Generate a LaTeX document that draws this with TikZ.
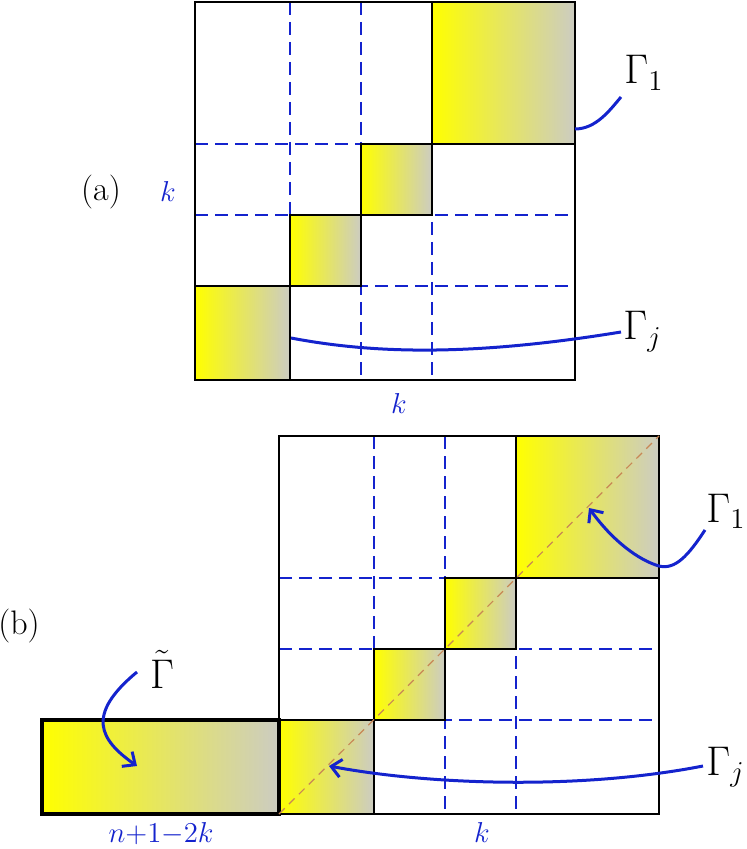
\documentclass[tikz,border=0pt]{standalone}
\usetikzlibrary{arrows.meta}
\definecolor{gblue}{RGB}{20,35,205}
\definecolor{ggrey}{RGB}{204,204,194}
\definecolor{gbrown}{RGB}{200,135,85}
\tikzset{
 frame/.style={draw=black,line width=0.8pt},
 gridline/.style={draw=gblue,line width=0.75pt,dash pattern=on 6.5pt off 3.5pt},
 blockfill/.style={left color=yellow,right color=ggrey,draw=none},
 blockedge/.style={draw=black,line width=1.1pt},
 thickedge/.style={draw=black,line width=2.2pt},
 link/.style={draw=gblue,line width=1.5pt},
 linkarrow/.style={link,-{Straight Barb[length=5pt,width=9pt]}},
 gam/.style={font=\fontsize{22}{26}\selectfont,inner sep=0pt,anchor=base west},
 bl/.style={text=gblue,font=\fontsize{15.5}{18}\selectfont,inner sep=0pt,anchor=base},
 tag/.style={font=\fontsize{17}{20}\selectfont,inner sep=0pt},
 diag/.style={draw=gbrown,line width=0.6pt,dash pattern=on 4pt off 3pt}
}
\newcommand\panelgrid{%
 \draw[gridline] (290,2) -- (290,380) (361,2) -- (361,380) (432,2) -- (432,380)
   (195,144) -- (575,144) (195,215) -- (575,215) (195,286) -- (575,286);
 \draw[frame] (195,2) rectangle (575,380);
 \shade[blockfill] (432,2) rectangle (575,144);
 \shade[blockfill] (361,144) rectangle (432,215);
 \shade[blockfill] (290,215) rectangle (361,286);
 \shade[blockfill] (195,286) rectangle (290,380);
 \draw[blockedge] (432,2) rectangle (575,144) (361,144) rectangle (432,215)
   (290,215) rectangle (361,286) (195,286) rectangle (290,380);
}
\begin{document}
\begin{tikzpicture}[x=0.5pt,y=-0.5pt]
\useasboundingbox (0,0) rectangle (746,849);
% ---------- panel (a)
\begin{scope}
 \panelgrid
\end{scope}
\node[tag] (taga) at (101,192) {(a)};
\node[bl] (ka) at (168,202) {$k$};
\node[bl] (kab) at (399,413) {$k$};
\node[gam] (g1a) at (624,84) {$\Gamma_{1}$};
\node[gam] (gja) at (623,340) {$\Gamma_{j}$};
\coordinate (a1s) at (575,129);
\coordinate (a1e) at (621,97);
\coordinate (ajs) at (291,338);
\coordinate (aje) at (621,332);
\draw[link] (a1s) .. controls (596,129) and (610,110) .. (a1e);
\draw[link] (ajs) .. controls (380,355) and (480,355) .. (aje);
% ---------- panel (b)
\begin{scope}[shift={(84,434)}]
 \panelgrid
\end{scope}
\shade[blockfill] (42,720) rectangle (279,814);
\draw[thickedge] (42,720) rectangle (279,814);
\coordinate (d0) at (279,814);
\coordinate (d1) at (659,436);
\draw[diag] (d0) -- (d1);
\node[tag] (tagb) at (19,626) {(b)};
\node[font=\fontsize{22}{26}\selectfont,inner sep=0pt,anchor=base] (gt) at (162,688) {$\tilde{\Gamma}$};
\node[gam] (g1b) at (706,522) {$\Gamma_{1}$};
\node[gam] (gjb) at (706,775) {$\Gamma_{j}$};
\node[bl] (nk) at (161,842) {$n{+}1{-}2k$};
\node[bl] (kb) at (482,842) {$k$};
\coordinate (b1s) at (705,530);
\coordinate (b1m) at (659,566);
\coordinate (b1e) at (589,508);
\coordinate (bjs) at (703,766);
\coordinate (bje) at (329,766);
\coordinate (bts) at (137,672);
\coordinate (bte) at (137,766);
\draw[linkarrow] (b1s) .. controls (688,556) and (675,570) .. (b1m) .. controls (638,560) and (612,540) .. (b1e);
\draw[linkarrow] (bjs) .. controls (580,790) and (430,785) .. (bje);
\draw[linkarrow] (bts) .. controls (85,715) and (100,740) .. (bte);
\end{tikzpicture}
\end{document}
